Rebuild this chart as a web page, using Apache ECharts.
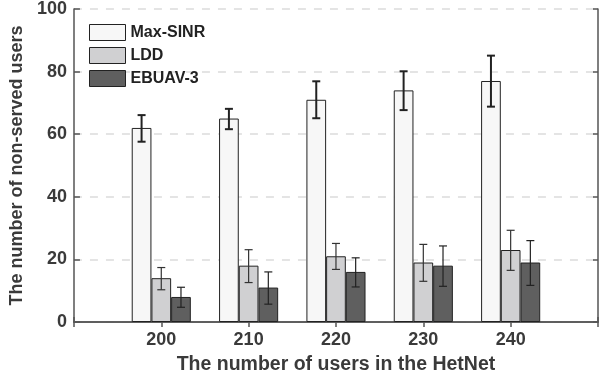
<!DOCTYPE html>
<html>
<head>
<meta charset="utf-8">
<script src="https://cdn.jsdelivr.net/npm/echarts@6/dist/echarts.min.js"></script>
<style>html,body{margin:0;padding:0;background:#fff}#c{width:601px;height:381px}</style>
</head>
<body>
<div id="c"></div>
<script>
// ---- data ----
var users = [200, 210, 220, 230, 240];
var seriesNames = ['Max-SINR', 'LDD', 'EBUAV-3'];
var maxSinr = [62, 65, 71, 74, 77];
var maxSinrLow = [57.6, 61.6, 65.1, 67.7, 68.8];
var maxSinrHigh = [66.1, 68.1, 76.9, 80.1, 85.1];
var ldd = [14, 18, 21, 19, 23];
var lddLow = [10.3, 12.6, 16.8, 13.0, 16.5];
var lddHigh = [17.4, 23.1, 25.1, 24.8, 29.3];
var ebuav = [8, 11, 16, 18, 19];
var ebuavLow = [4.7, 5.7, 11.2, 11.4, 11.7];
var ebuavHigh = [11.1, 16.0, 20.5, 24.3, 26.0];
var yTicks = [0, 20, 40, 60, 80, 100];

// ---- styles ----
var BAR_W = 19.7;
var colors = ['#f7f7f7', '#d0d0d2', '#5f5f5f'];
var errStyle = [{w: 2, cap: 8, c: '#222'}, {w: 1.2, cap: 8, c: '#333'}, {w: 1.2, cap: 8, c: '#222'}];
var FONT = 'Liberation Sans, Arial, Helvetica, sans-serif';
var TXT = '#3a3a3a';
var AX = '#555';

function pairs(v) { return users.map(function (u, i) { return [u, v[i]]; }); }
function errData(lo, hi) { return users.map(function (u, i) { return [u, lo[i], hi[i]]; }); }

function barSeries(name, vals, idx) {
  return {
    name: name, type: 'bar', data: pairs(vals), barWidth: BAR_W, barGap: '0%',
    itemStyle: {color: colors[idx], borderColor: '#222', borderWidth: 1},
    z: 2, animation: false
  };
}
function errSeries(lo, hi, idx) {
  var st = errStyle[idx];
  var off = (idx - 1) * BAR_W;
  return {
    type: 'custom', data: errData(lo, hi), z: 5, animation: false, silent: true,
    encode: {x: 0, y: [1, 2]},
    renderItem: function (params, api) {
      var x = api.value(0);
      var p1 = api.coord([x, api.value(1)]);
      var p2 = api.coord([x, api.value(2)]);
      var cx = p1[0] + off;
      var h = st.cap / 2;
      var s = {stroke: st.c, lineWidth: st.w};
      return {type: 'group', children: [
        {type: 'line', shape: {x1: cx, y1: p1[1], x2: cx, y2: p2[1]}, style: s},
        {type: 'line', shape: {x1: cx - h, y1: p1[1], x2: cx + h, y2: p1[1]}, style: s},
        {type: 'line', shape: {x1: cx - h, y1: p2[1], x2: cx + h, y2: p2[1]}, style: s}
      ]};
    }
  };
}

var chart = echarts.init(document.getElementById('c'), null, {renderer: 'canvas'});
chart.setOption({
  backgroundColor: '#fff',
  textStyle: {fontFamily: FONT},
  grid: {left: 70, right: 1, top: 8, bottom: 59, containLabel: false},
  legend: {
    left: 89, top: 24, orient: 'vertical', itemWidth: 36, itemHeight: 16, itemGap: 6,
    padding: 0, icon: 'rect',
    data: seriesNames,
    textStyle: {fontFamily: FONT, fontWeight: 'bold', fontSize: 16, color: '#222'},
    itemStyle: {borderColor: '#222', borderWidth: 1}
  },
  xAxis: [{
    type: 'value', min: 190, max: 250, interval: 10, position: 'bottom',
    name: 'The number of users in the HetNet', nameLocation: 'middle', nameGap: 33,
    nameTextStyle: {fontFamily: FONT, fontWeight: 'bold', fontSize: 19.5, color: TXT},
    axisLine: {show: true, lineStyle: {color: AX, width: 1.5}},
    axisTick: {show: true, inside: true, length: 5, lineStyle: {color: AX, width: 1.5}},
    axisLabel: {fontFamily: FONT, fontWeight: 'bold', fontSize: 18, color: TXT, margin: 9,
      formatter: function (v) { return users.indexOf(v) >= 0 ? String(v) : ''; }},
    splitLine: {show: false}
  }, {
    type: 'value', min: 190, max: 250, interval: 10, position: 'top',
    axisLine: {show: true, lineStyle: {color: AX, width: 1.5}},
    axisTick: {show: true, inside: true, length: 5, lineStyle: {color: AX, width: 1.5}},
    axisLabel: {show: false}, splitLine: {show: false}
  }],
  yAxis: [{
    type: 'value', min: 0, max: 100, interval: 20, position: 'left',
    name: 'The number of non-served users', nameLocation: 'middle', nameGap: 42,
    nameTextStyle: {fontFamily: FONT, fontWeight: 'bold', fontSize: 18, color: TXT},
    axisLine: {show: true, lineStyle: {color: AX, width: 1.5}},
    axisTick: {show: true, inside: true, length: 6, lineStyle: {color: AX, width: 1.5}},
    axisLabel: {fontFamily: FONT, fontWeight: 'bold', fontSize: 18, color: TXT, margin: 7,
      formatter: function (v) { return yTicks.indexOf(v) >= 0 ? String(v) : ''; }},
    splitLine: {show: true, lineStyle: {color: '#dcdcdc', type: [8, 8], width: 1.5}}
  }, {
    type: 'value', min: 0, max: 100, interval: 20, position: 'right',
    axisLine: {show: true, lineStyle: {color: AX, width: 1.5}},
    axisTick: {show: true, inside: true, length: 5, lineStyle: {color: AX, width: 1.5}},
    axisLabel: {show: false}, splitLine: {show: false}
  }],
  series: [
    barSeries(seriesNames[0], maxSinr, 0),
    barSeries(seriesNames[1], ldd, 1),
    barSeries(seriesNames[2], ebuav, 2),
    errSeries(maxSinrLow, maxSinrHigh, 0),
    errSeries(lddLow, lddHigh, 1),
    errSeries(ebuavLow, ebuavHigh, 2)
  ]
});
</script>
</body>
</html>
